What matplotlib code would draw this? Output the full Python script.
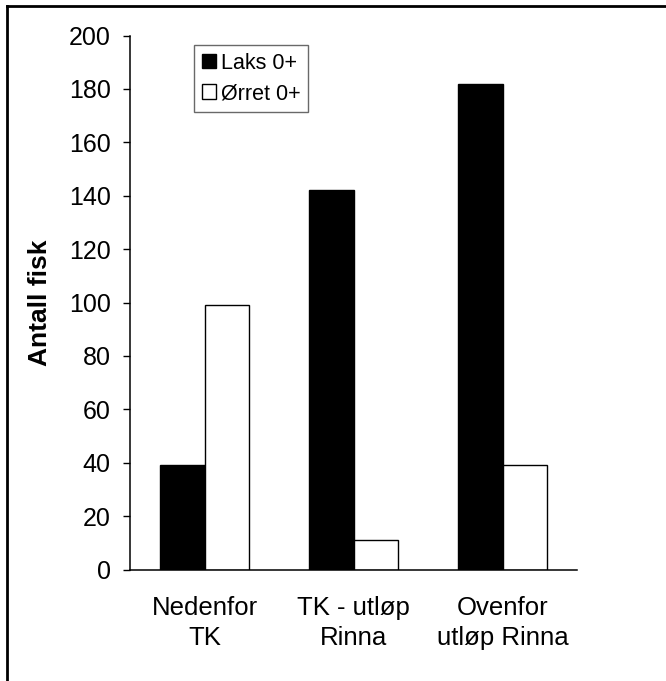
import matplotlib
matplotlib.use("Agg")
import matplotlib.pyplot as plt
from matplotlib.lines import Line2D
from matplotlib.patches import Patch
import numpy as np

categories = ["Nedenfor\nTK", "TK - utløp\nRinna", "Ovenfor\nutløp Rinna"]
laks = [39, 142, 182]
orret = [99, 11, 39]
series_names = ["Laks 0+", "Ørret 0+"]
yticks = [0, 20, 40, 60, 80, 100, 120, 140, 160, 180, 200]

plt.rcParams['font.family'] = ['Liberation Sans', 'DejaVu Sans']

W, H = 666, 681
fig = plt.figure(figsize=(W / 100, H / 100), dpi=100)
ax = fig.add_axes([130 / W, 1 - 569.5 / H, (577 - 130) / W, (569.5 - 35.5) / H])

x = np.arange(len(categories))
bw = 0.296
ax.bar(x - bw / 2, laks, width=bw, color="black", edgecolor="black", linewidth=1, label=series_names[0])
ax.bar(x + bw / 2, orret, width=bw, color="white", edgecolor="black", linewidth=1, label=series_names[1])

ax.set_xlim(-0.5, 2.5)
ax.set_ylim(0, 200)
ax.set_yticks(yticks)
ax.set_xticks(x)
ax.set_xticklabels(categories, fontsize=18.5, linespacing=1.3)
ax.tick_params(axis='x', length=0, pad=19)
ax.tick_params(axis='y', length=5, width=1, direction='out', labelsize=18, pad=9)
for s in ['top', 'right']:
    ax.spines[s].set_visible(False)
for s in ['left', 'bottom']:
    ax.spines[s].set_linewidth(1.1)
    ax.spines[s].set_color('black')

ax.set_ylabel("Antall fisk", fontsize=19, fontweight='bold', labelpad=12)

handles = [Patch(facecolor='black', edgecolor='black'), Patch(facecolor='white', edgecolor='black')]
leg = ax.legend(handles, series_names, loc='upper left', bbox_to_anchor=(194 / W, 1 - 45 / H),
                bbox_transform=fig.transFigure, fontsize=15.5, frameon=True, fancybox=False,
                handlelength=0.65, handleheight=0.65, handletextpad=0.25, borderpad=0.35,
                labelspacing=0.45, borderaxespad=0)
leg.get_frame().set_edgecolor('#444444')
leg.get_frame().set_linewidth(1)

# figure border (left and top visible)
fig.add_artist(Line2D([6.5 / W, 6.5 / W], [-0.1, 1 - 6 / H], transform=fig.transFigure, color='black', lw=2))
fig.add_artist(Line2D([6.5 / W, 1.1], [1 - 6 / H, 1 - 6 / H], transform=fig.transFigure, color='black', lw=2))

fig.savefig("out.png", dpi=100)
